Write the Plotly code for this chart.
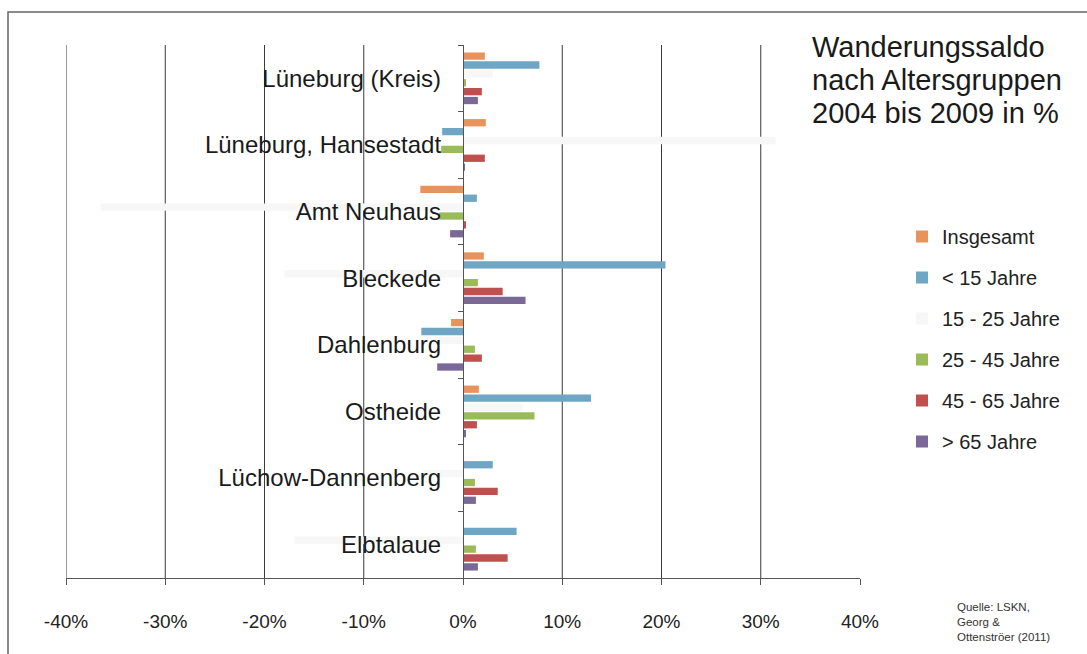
import plotly.graph_objects as go

# ---------------- data ----------------
categories = ["Lüneburg (Kreis)", "Lüneburg, Hansestadt", "Amt Neuhaus", "Bleckede",
              "Dahlenburg", "Ostheide", "Lüchow-Dannenberg", "Elbtalaue"]

series_names = ["Insgesamt", "< 15 Jahre", "15 - 25 Jahre", "25 - 45 Jahre",
                "45 - 65 Jahre", "> 65 Jahre"]

insgesamt = [2.2, 2.3, -4.3, 2.1, -1.2, 1.6, 0.1, 0.1]
unter15 = [7.7, -2.1, 1.4, 20.4, -4.2, 12.9, 3.0, 5.4]
j15_25 = [3.0, 31.5, -36.5, -18.0, -3.0, 6.0, -4.0, -17.0]
j25_45 = [0.3, -2.2, -2.4, 1.5, 1.2, 7.2, 1.2, 1.3]
j45_65 = [1.9, 2.2, 0.3, 4.0, 1.9, 1.4, 3.5, 4.5]
ueber65 = [1.5, 0.2, -1.3, 6.3, -2.6, 0.3, 1.3, 1.5]

series_values = [insgesamt, unter15, j15_25, j25_45, j45_65, ueber65]
series_colors = ["#e8935c", "#6ea6c4", "#f7f7f7", "#9bbb59", "#c0504d", "#7a6896"]

x_tickvals = [-40, -30, -20, -10, 0, 10, 20, 30, 40]
x_ticktext = ["-40%", "-30%", "-20%", "-10%", "0%", "10%", "20%", "30%", "40%"]
grid_vals = [-40, -30, -20, -10, 10, 20, 30]

title_lines = ["Wanderungssaldo", "nach Altersgruppen", "2004 bis 2009 in %"]
source_text = "Quelle: LSKN,<br>Georg &<br>Ottenströer (2011)"

# ---------------- figure ----------------
FONT = "Liberation Sans, Arial, sans-serif"
fig = go.Figure()
for name, vals, col in zip(series_names, series_values, series_colors):
    fig.add_trace(go.Bar(
        y=categories, x=vals, name=name, orientation="h",
        marker=dict(color=col, line=dict(width=0)),
        legendgroup=name,
    ))

W, H = 1087, 654
L, R, T, B = 66, 227, 45, 76
pw, ph = W - L - R, H - T - B

def px(xp):
    return (xp - L) / pw

def py(yp):
    return (H - B - yp) / ph

shapes = []
for g in grid_vals:
    shapes.append(dict(type="line", xref="x", yref="paper", x0=g, x1=g, y0=0, y1=1,
                       line=dict(color="#3a3a3a", width=1), layer="below"))
# outer frame
shapes.append(dict(type="rect", xref="paper", yref="paper",
                   x0=px(8), x1=px(1095), y0=py(662), y1=py(12),
                   line=dict(color="#666666", width=1.5), layer="below"))

annotations = []
for i, line in enumerate(title_lines):
    annotations.append(dict(text=line, xref="paper", yref="paper",
                            x=px(810), y=py(47 + 33 * i), xanchor="left", yanchor="middle",
                            showarrow=False, font=dict(family=FONT, size=29, color="#1a1a1a")))
annotations.append(dict(text=source_text, xref="paper", yref="paper",
                        x=px(955), y=py(599), xanchor="left", yanchor="top", align="left",
                        showarrow=False, font=dict(family=FONT, size=11.5, color="#333333")))

fig.update_layout(
    width=W, height=H,
    margin=dict(l=L, r=R, t=T, b=B),
    paper_bgcolor="white", plot_bgcolor="white",
    barmode="group", bargap=0.2, bargroupgap=0.18,
    font=dict(family=FONT, color="#1a1a1a"),
    shapes=shapes, annotations=annotations,
    showlegend=True,
    legend=dict(x=px(902), y=py(217), xanchor="left", yanchor="top",
                traceorder="grouped", tracegroupgap=12,
                font=dict(family=FONT, size=20, color="#222222"),
                bgcolor="rgba(0,0,0,0)"),
    xaxis=dict(range=[-40, 40], tickvals=x_tickvals, ticktext=x_ticktext,
               showgrid=False, zeroline=False, showline=True, linecolor="#555555",
               linewidth=1.2, ticks="outside", ticklen=6, tickcolor="#555555",
               ticklabelstandoff=20,
               tickfont=dict(family=FONT, size=19, color="#222222")),
    yaxis=dict(type="category", autorange="reversed", anchor="free", position=0.5,
               showgrid=False, zeroline=False, showline=True, linecolor="#555555",
               linewidth=1.2, ticks="outside", tickson="boundaries", ticklen=5,
               tickcolor="#555555", ticklabelstandoff=17,
               tickfont=dict(family=FONT, size=24, color="#1a1a1a")),
)

fig.write_html("out.html")
